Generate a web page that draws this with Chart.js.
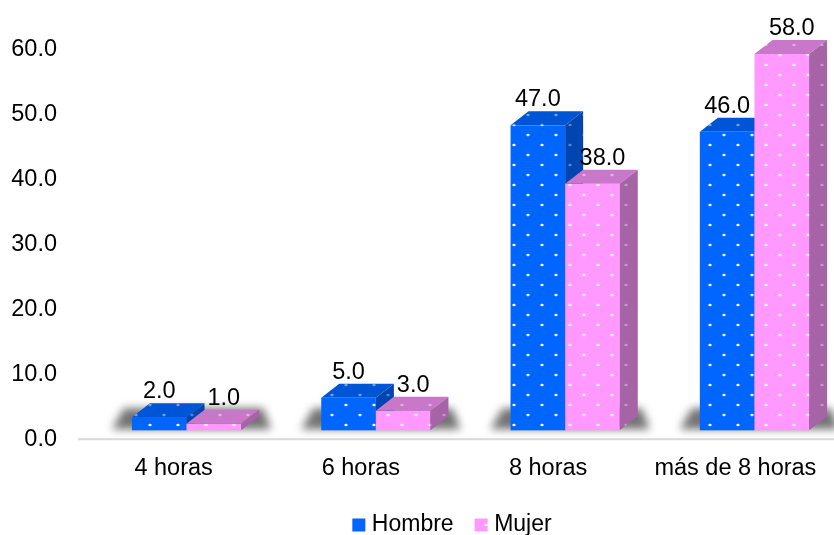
<!DOCTYPE html>
<html>
<head>
<meta charset="utf-8">
<script src="https://cdn.jsdelivr.net/npm/chart.js@4"></script>
<style>
  html, body { margin: 0; padding: 0; background: #fff; }
  #wrap { width: 834px; height: 535px; }
</style>
</head>
<body>
<div id="wrap"><canvas id="chart-area"></canvas></div>
<script>
var categories = ['4 horas', '6 horas', '8 horas', 'más de 8 horas'];
var hombre = [2.0, 5.0, 47.0, 46.0];
var mujer = [1.0, 3.0, 38.0, 58.0];
var yTicks = { min: 0, max: 60, step: 10 };

var FONT = { family: '"Liberation Sans", Arial, sans-serif', size: 23.5 };

// 3d look: depth of each box, how far the boxes sit right of the tick centres,
// and a slight spread so the outer columns drift outwards like in a perspective view
var depth = { x: 18, y: 14 };
var shiftX = 16;
var perspective = 0.011;

var makeDots = function(base, dotColor) {
    var c = document.createElement('canvas');
    c.width = 28;
    c.height = 20;
    var g = c.getContext('2d');
    g.fillStyle = base;
    g.fillRect(0, 0, 28, 20);
    g.fillStyle = dotColor;
    [[10, 5], [24, 15]].forEach(function(p) {
        g.beginPath();
        g.ellipse(p[0], p[1], 1.7, 1.2, 0, 0, Math.PI * 2);
        g.fill();
    });
    return g.createPattern(c, 'repeat');
};

var faces = [
    { front: makeDots('#0066FF', 'rgba(255,255,255,0.95)'),
      top: makeDots('#0054D6', 'rgba(255,255,255,0.45)'),
      side: makeDots('#0045B0', 'rgba(255,255,255,0.35)') },
    { front: makeDots('#FF99FF', 'rgba(255,255,255,0.95)'),
      top: makeDots('#C977C9', 'rgba(255,255,255,0.45)'),
      side: makeDots('#A663A6', 'rgba(255,255,255,0.35)') }
];
var labelNudge = [0, 10];

var px = function(chart, x) {
    var a = chart.chartArea;
    return x + shiftX + (x - (a.left + a.right) / 2) * perspective;
};

var drawBox = function(chart, bar, f) {
    var ctx = chart.ctx;
    var l = px(chart, bar.x - bar.width / 2), r = px(chart, bar.x + bar.width / 2);
    var t = bar.y, b = bar.base;
    ctx.fillStyle = f.front;
    ctx.fillRect(l, t, r - l, b - t);
    ctx.fillStyle = f.top;
    ctx.beginPath();
    ctx.moveTo(l, t);
    ctx.lineTo(l + depth.x, t - depth.y);
    ctx.lineTo(r + depth.x, t - depth.y);
    ctx.lineTo(r, t);
    ctx.closePath();
    ctx.fill();
    ctx.fillStyle = f.side;
    ctx.beginPath();
    ctx.moveTo(r, t);
    ctx.lineTo(r + depth.x, t - depth.y);
    ctx.lineTo(r + depth.x, b - depth.y);
    ctx.lineTo(r, b);
    ctx.closePath();
    ctx.fill();
};

var box3d = {
    id: 'box3d',
    // the flat bars are replaced by the boxes drawn below
    beforeDatasetDraw: function() {
        return false;
    },
    afterDatasetsDraw: function(chart) {
        var ctx = chart.ctx;
        var area = chart.chartArea;
        var y0 = chart.scales.y.getPixelForValue(0);
        var metas = [chart.getDatasetMeta(0), chart.getDatasetMeta(1)];

        ctx.save();

        // floor line
        ctx.strokeStyle = '#D9D9D9';
        ctx.lineWidth = 2;
        ctx.beginPath();
        ctx.moveTo(area.left - 2, y0 + 9);
        ctx.lineTo(chart.width, y0 + 9);
        ctx.stroke();

        // soft shadow on the floor behind each pair
        ctx.save();
        ctx.filter = 'blur(4px)';
        ctx.fillStyle = 'rgba(0,0,0,0.55)';
        metas[0].data.forEach(function(bar, i) {
            var b2 = metas[1].data[i];
            var l = px(chart, bar.x - bar.width / 2);
            var r = px(chart, b2.x + b2.width / 2) + depth.x;
            var top = Math.max(Math.min(bar.y, b2.y) - depth.y + 4, bar.base - 22);
            ctx.beginPath();
            ctx.moveTo(l - 20, bar.base - 1);
            ctx.lineTo(l - 8, top);
            ctx.lineTo(r + 4, top);
            ctx.lineTo(r + 12, bar.base - 1);
            ctx.closePath();
            ctx.fill();
        });
        ctx.restore();

        // boxes are painted left to right so each one covers its neighbour's side
        categories.forEach(function(c, i) {
            metas.forEach(function(meta, di) {
                drawBox(chart, meta.data[i], faces[di]);
            });
        });

        ctx.fillStyle = '#000';
        ctx.font = FONT.size + 'px ' + FONT.family;
        ctx.textAlign = 'center';
        ctx.textBaseline = 'alphabetic';
        chart.data.datasets.forEach(function(ds, di) {
            metas[di].data.forEach(function(bar, i) {
                ctx.fillText(ds.data[i].toFixed(1), px(chart, bar.x) + labelNudge[di], bar.y - 19);
            });
        });
        ctx.restore();
    }
};

var config = {
    type: 'bar',
    data: {
        labels: categories,
        datasets: [{
            label: 'Hombre',
            data: hombre,
            backgroundColor: faces[0].front
        }, {
            label: 'Mujer',
            data: mujer,
            backgroundColor: faces[1].front
        }]
    },
    options: {
        responsive: true,
        maintainAspectRatio: false,
        animation: false,
        events: [],
        categoryPercentage: 0.577,
        barPercentage: 1.0,
        layout: { padding: { left: 11, right: 5, top: 41, bottom: -11.5 } },
        scales: {
            x: {
                grid: { display: false, drawTicks: true, tickLength: 21 },
                border: { display: false },
                ticks: { color: '#000', font: FONT, padding: 3 },
                afterFit: function(scale) { scale.height += 2; }
            },
            y: {
                min: yTicks.min,
                max: yTicks.max,
                grid: { display: false, drawTicks: true, tickLength: 20 },
                border: { display: false },
                ticks: {
                    stepSize: yTicks.step,
                    color: '#000',
                    font: FONT,
                    padding: 3,
                    labelOffset: 9,
                    callback: function(v) { return v.toFixed(1); }
                },
                afterFit: function(scale) { scale.width = 69; }
            }
        },
        plugins: {
            legend: {
                position: 'bottom',
                fullSize: false,
                labels: {
                    usePointStyle: true,
                    pointStyle: 'rect',
                    boxWidth: 3,
                    boxHeight: 13,
                    padding: 26,
                    color: '#000',
                    font: { family: FONT.family, size: 23 }
                }
            },
            tooltip: { enabled: false }
        }
    },
    plugins: [box3d]
};

window.onload = function() {
    var ctx = document.getElementById('chart-area').getContext('2d');
    window.myBar = new Chart(ctx, config);
};
</script>
</body>
</html>
